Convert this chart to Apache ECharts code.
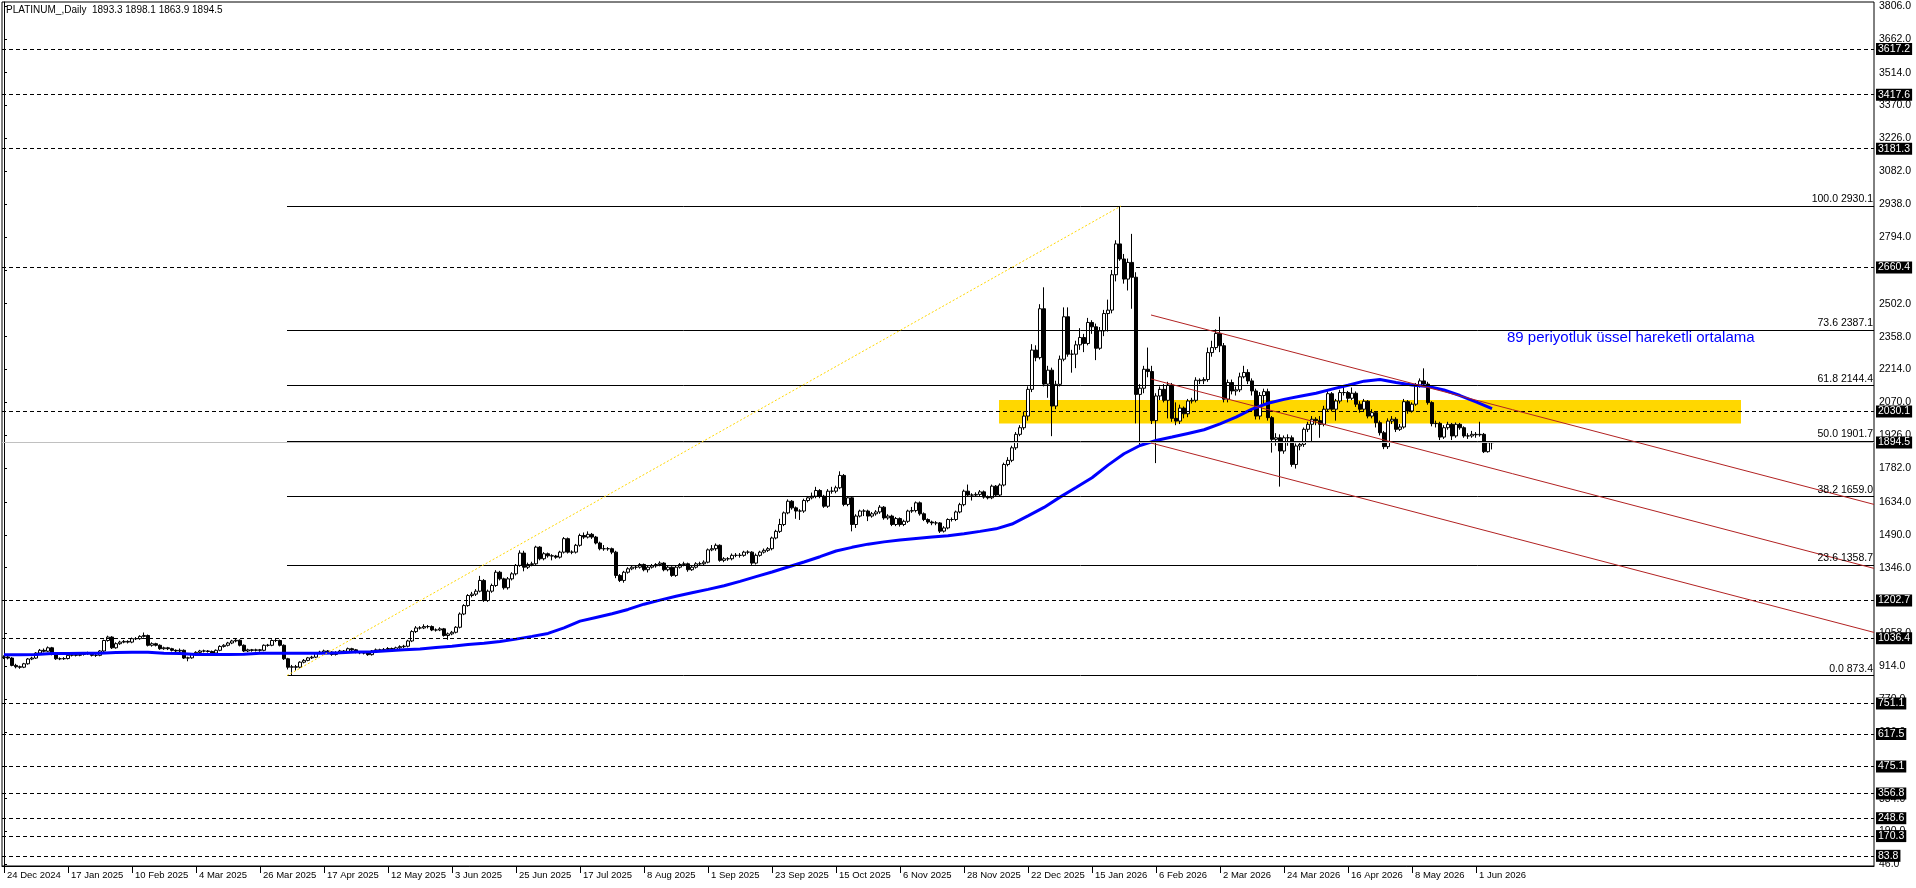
<!DOCTYPE html>
<html>
<head>
<meta charset="utf-8">
<title>PLATINUM_,Daily</title>
<script src="https://cdn.jsdelivr.net/npm/echarts@6/dist/echarts.min.js"></script>
<style>
  html, body { margin: 0; padding: 0; background: #fff; }
  #chart { width: 1916px; height: 888px; }
</style>
</head>
<body>
<div id="chart"></div>
<script>
// date labels, one every 16 daily bars
const dateLabels = ["24 Dec 2024", "17 Jan 2025", "10 Feb 2025", "4 Mar 2025", "26 Mar 2025", "17 Apr 2025",
  "12 May 2025", "3 Jun 2025", "25 Jun 2025", "17 Jul 2025", "8 Aug 2025", "1 Sep 2025", "23 Sep 2025",
  "15 Oct 2025", "6 Nov 2025", "28 Nov 2025", "22 Dec 2025", "15 Jan 2026", "6 Feb 2026", "2 Mar 2026",
  "24 Mar 2026", "16 Apr 2026", "8 May 2026", "1 Jun 2026"];
const labelStep = 16;
const totalSlots = 468; // bars + empty shift area on the right

// price axis labels as printed by the terminal
const priceTicks = [3806, 3662, 3514, 3370, 3226, 3082, 2938, 2794, 2650, 2502, 2358, 2214, 2070, 1926,
  1782, 1634, 1490, 1346, 1202, 1058, 914, 770, 626, 478, 334, 190, 46];

const firstOpen = 952;
const closes = [
  955, 950, 918, 912, 910, 925, 946, 950, 972, 984, 980, 995, 966, 947, 947, 948, 962, 965, 962, 966,
  969, 972, 962, 962, 981, 1027, 1042, 995, 1013, 1020, 1023, 1020, 1035, 1035, 1045, 1049, 1006, 1013, 1006, 991,
  995, 991, 984, 981, 984, 950, 951, 966, 975, 981, 981, 979, 972, 984, 1001, 1006, 1016, 1025, 1028, 1006,
  981, 986, 984, 986, 984, 1006, 1006, 1027, 1027, 1006, 947, 910, 912, 910, 932, 940, 951, 954, 972, 976,
  981, 976, 966, 975, 981, 979, 991, 986, 976, 973, 972, 965, 981, 986, 984, 988, 992, 986, 995, 1000,
  1002, 1025, 1066, 1082, 1082, 1088, 1088, 1073, 1073, 1078, 1049, 1056, 1063, 1085, 1143, 1180, 1224, 1230, 1243, 1290,
  1202, 1243, 1268, 1326, 1297, 1258, 1297, 1319, 1356, 1410, 1348, 1360, 1363, 1436, 1385, 1407, 1398, 1397, 1392, 1414,
  1473, 1414, 1414, 1444, 1487, 1480, 1492, 1480, 1454, 1429, 1429, 1429, 1414, 1312, 1290, 1326, 1341, 1348, 1348, 1360,
  1337, 1348, 1354, 1360, 1366, 1337, 1348, 1312, 1348, 1360, 1363, 1337, 1348, 1363, 1363, 1370, 1424, 1429, 1444, 1378,
  1385, 1385, 1400, 1400, 1400, 1414, 1414, 1366, 1400, 1414, 1422, 1429, 1476, 1505, 1535, 1586, 1637, 1608, 1594, 1594,
  1640, 1652, 1659, 1684, 1659, 1615, 1681, 1681, 1696, 1750, 1623, 1652, 1535, 1572, 1594, 1594, 1572, 1582, 1590, 1611,
  1564, 1572, 1535, 1561, 1535, 1549, 1594, 1596, 1630, 1582, 1557, 1546, 1542, 1542, 1506, 1520, 1557, 1557, 1590, 1622,
  1681, 1664, 1664, 1667, 1678, 1655, 1652, 1703, 1664, 1708, 1798, 1816, 1871, 1930, 1959, 2010, 2127, 2299, 2266, 2480,
  2150, 2211, 2054, 2149, 2259, 2445, 2281, 2281, 2322, 2354, 2328, 2420, 2401, 2307, 2383, 2459, 2474, 2629, 2764, 2698,
  2610, 2683, 2618, 2105, 2132, 2215, 2205, 1990, 2098, 2127, 2079, 2146, 2000, 1988, 2045, 2020, 2076, 2079, 2167, 2165,
  2170, 2288, 2310, 2372, 2318, 2084, 2157, 2120, 2125, 2182, 2201, 2164, 2120, 2010, 2100, 2117, 2003, 1908, 1915, 1857,
  1915, 1915, 1798, 1879, 1886, 1952, 1974, 1996, 1990, 1974, 2040, 2108, 2040, 2076, 2113, 2113, 2088, 2110, 2062, 2040,
  2075, 2010, 2025, 1981, 1937, 1876, 1988, 1996, 1952, 1962, 2073, 2032, 2062, 2142, 2164, 2150, 2069, 1977, 1978, 1918,
  1959, 1974, 1923, 1974, 1959, 1923, 1923, 1930, 1928, 1930, 1854, 1893.3, 1894.5
];
const highs = [
  962, 960, 954, 925, 917, 929, 950, 956, 976, 990, 992, 1001, 999, 970, 953, 954, 967, 970, 969, 971,
  975, 978, 976, 968, 985, 1031, 1048, 1046, 1019, 1026, 1029, 1028, 1040, 1042, 1050, 1062, 1053, 1019, 1017, 1010,
  1000, 999, 995, 988, 992, 988, 956, 970, 980, 986, 987, 985, 983, 988, 1006, 1011, 1021, 1030, 1034, 1032,
  1010, 991, 990, 991, 990, 1010, 1012, 1032, 1036, 1031, 1010, 951, 920, 920, 936, 946, 955, 960, 976, 982,
  987, 985, 980, 980, 986, 985, 996, 995, 990, 981, 978, 976, 985, 992, 991, 994, 998, 996, 1000, 1006,
  1008, 1030, 1072, 1090, 1090, 1098, 1095, 1093, 1080, 1085, 1082, 1062, 1069, 1090, 1150, 1186, 1230, 1240, 1252, 1310,
  1296, 1250, 1276, 1335, 1332, 1302, 1305, 1326, 1362, 1422, 1420, 1368, 1372, 1442, 1440, 1414, 1412, 1405, 1402, 1420,
  1480, 1478, 1422, 1450, 1495, 1500, 1505, 1498, 1485, 1460, 1445, 1436, 1434, 1420, 1318, 1332, 1348, 1355, 1356, 1366,
  1364, 1355, 1362, 1366, 1374, 1370, 1355, 1352, 1355, 1366, 1372, 1368, 1356, 1370, 1372, 1378, 1430, 1445, 1452, 1448,
  1392, 1392, 1408, 1410, 1410, 1420, 1422, 1418, 1408, 1420, 1430, 1436, 1482, 1512, 1560, 1592, 1645, 1642, 1614, 1602,
  1648, 1660, 1675, 1700, 1690, 1665, 1690, 1700, 1705, 1768, 1756, 1660, 1658, 1580, 1600, 1602, 1600, 1590, 1598, 1620,
  1616, 1580, 1578, 1568, 1566, 1556, 1600, 1612, 1636, 1636, 1588, 1562, 1552, 1550, 1546, 1528, 1562, 1566, 1596, 1630,
  1688, 1710, 1672, 1676, 1686, 1684, 1662, 1710, 1708, 1715, 1806, 1830, 1880, 1940, 1970, 2030, 2140, 2325, 2320, 2500,
  2574, 2230, 2222, 2165, 2275, 2486, 2486, 2300, 2340, 2395, 2370, 2440, 2430, 2415, 2400, 2475, 2520, 2650, 2780, 2930.1,
  2720, 2700, 2808, 2640, 2150, 2230, 2310, 2230, 2110, 2140, 2150, 2160, 2155, 2070, 2060, 2052, 2085, 2090, 2180, 2175,
  2180, 2310, 2340, 2390, 2445, 2330, 2170, 2170, 2140, 2200, 2230, 2215, 2175, 2130, 2115, 2130, 2130, 2010, 1935, 1930,
  1925, 1930, 1925, 1890, 1900, 1960, 1985, 2010, 2005, 2010, 2055, 2120, 2115, 2085, 2125, 2140, 2120, 2135, 2118, 2075,
  2085, 2080, 2040, 2032, 1990, 1945, 2000, 2010, 2005, 1975, 2085, 2080, 2070, 2155, 2175, 2219, 2160, 2075, 1990, 1985,
  1970, 1985, 1980, 1982, 1980, 1965, 1935, 1945, 1940, 1985, 1936, 1900, 1898.1
];
const lows = [
  946, 944, 914, 905, 903, 906, 921, 941, 946, 968, 975, 976, 962, 942, 941, 942, 944, 957, 957, 958,
  961, 964, 957, 955, 958, 977, 1022, 990, 991, 1008, 1015, 1014, 1015, 1029, 1030, 1040, 1001, 1000, 1001, 986,
  986, 985, 979, 975, 976, 946, 936, 947, 961, 970, 975, 974, 967, 968, 980, 996, 1001, 1011, 1019, 1001,
  976, 976, 978, 979, 978, 980, 1000, 1002, 1020, 1001, 942, 900, 873.4, 895, 905, 927, 936, 946, 950, 967,
  971, 970, 960, 961, 970, 973, 974, 980, 971, 967, 966, 960, 961, 976, 978, 979, 983, 980, 981, 990,
  994, 997, 1020, 1060, 1075, 1077, 1080, 1068, 1066, 1068, 1044, 1030, 1050, 1058, 1080, 1138, 1175, 1216, 1222, 1238,
  1196, 1196, 1236, 1262, 1290, 1250, 1250, 1290, 1312, 1350, 1330, 1340, 1352, 1358, 1378, 1378, 1390, 1378, 1385, 1386,
  1408, 1408, 1405, 1408, 1438, 1472, 1474, 1472, 1448, 1422, 1420, 1420, 1405, 1300, 1283, 1280, 1320, 1335, 1338, 1342,
  1330, 1325, 1342, 1346, 1352, 1330, 1330, 1306, 1306, 1342, 1352, 1328, 1332, 1342, 1354, 1355, 1365, 1418, 1420, 1372,
  1370, 1376, 1378, 1392, 1390, 1394, 1405, 1358, 1360, 1394, 1408, 1415, 1422, 1470, 1498, 1528, 1580, 1600, 1560, 1555,
  1586, 1632, 1645, 1650, 1650, 1608, 1608, 1670, 1672, 1690, 1615, 1615, 1505, 1520, 1566, 1572, 1550, 1565, 1574, 1582,
  1556, 1556, 1528, 1528, 1526, 1528, 1542, 1586, 1588, 1574, 1550, 1538, 1532, 1532, 1498, 1500, 1514, 1548, 1550, 1584,
  1615, 1656, 1640, 1656, 1660, 1648, 1645, 1646, 1656, 1658, 1702, 1790, 1808, 1862, 1922, 1950, 1990, 2115, 2250, 2258,
  2140, 2090, 1922, 2040, 2140, 2250, 2270, 2200, 2220, 2300, 2290, 2320, 2370, 2255, 2300, 2360, 2380, 2460, 2600, 2690,
  2590, 2560, 2480, 1978, 1876, 2110, 2180, 1975, 1804, 2080, 2070, 2000, 1985, 1970, 1975, 2000, 2005, 2065, 2070, 2150,
  2150, 2160, 2270, 2300, 2290, 2070, 2070, 2105, 2100, 2115, 2175, 2150, 2100, 1995, 1995, 2060, 1990, 1850, 1880, 1701,
  1845, 1880, 1788, 1780, 1860, 1875, 1940, 1900, 1970, 1915, 1965, 2030, 2030, 1990, 2065, 2100, 2070, 2080, 2050, 2025,
  2030, 2000, 2000, 1960, 1925, 1865, 1866, 1975, 1940, 1945, 1955, 2020, 2025, 2055, 2135, 2140, 2060, 1965, 1960, 1905,
  1910, 1950, 1905, 1915, 1950, 1915, 1910, 1915, 1915, 1920, 1848, 1850, 1863.9
];

// 89 period EMA read every 4 bars
const emaStep = 4;
const ema89 = [
  965, 965, 966, 970, 970, 971, 971, 974, 975, 975, 971, 970, 966, 966, 966, 967, 971, 971, 971, 971,
  971, 973, 977, 978, 982, 986, 990, 996, 1002, 1009, 1015, 1023, 1033, 1045, 1058, 1082, 1112, 1128, 1144, 1163,
  1186, 1204, 1221, 1236, 1251, 1267, 1286, 1307, 1327, 1349, 1371, 1394, 1419, 1435, 1449, 1459, 1467, 1474, 1480, 1486,
  1495, 1505, 1516, 1537, 1573, 1610, 1655, 1697, 1740, 1795, 1845, 1881, 1903, 1918, 1934, 1950, 1976, 2005, 2040, 2066,
  2083, 2097, 2110, 2128, 2145, 2163, 2170, 2157, 2146, 2140, 2124, 2100, 2072, 2043
];

// fibonacci retracement from the April 2025 low to the January 2026 high
const fibStartBar = 70.75;
const fibLevels = ["0.0", "23.6", "38.2", "50.0", "61.8", "73.6", "100.0"];
const fibPrices = [873.4, 1358.7, 1659.0, 1901.7, 2144.4, 2387.1, 2930.1];
const fibAnchor = [[70.75, 873.4], [279.25, 2930.1]];

// horizontal support / resistance levels
const levelPrices = [3617.2, 3417.6, 3181.3, 2660.4, 2030.1, 1202.7, 1036.4, 751.1, 617.5, 475.1, 356.8, 248.6, 170.3, 83.8];
const bidPrice = 1894.5;

// descending channel: [startBar, startPrice, endBar, endPrice]
const channelLines = [
  [286.75, 2452.7, 467.5, 1623.1],
  [286.75, 2172.4, 467.5, 1342.8],
  [286.75, 1892.1, 467.5, 1062.5]
];

// yellow zone
const zoneBars = [248.75, 434.25];
const zonePrices = [1977.5, 2080.4];

const noteText = "89 periyotluk üssel hareketli ortalama";
const notePos = [375.75, 2352];
const titleText = "PLATINUM_,Daily  1893.3 1898.1 1863.9 1894.5";

const FONT = "Liberation Sans, Arial, sans-serif";

const categories = [];
for (let i = 0; i < totalSlots; i++) {
  categories.push(i % labelStep === 0 && i / labelStep < dateLabels.length ? dateLabels[i / labelStep] : "");
}
const candles = closes.map((c, i) => {
  const o = i === 0 ? firstOpen : closes[i - 1];
  return [o, c, lows[i], highs[i]];
});
const emaData = ema89.map((v, k) => [k * emaStep, v]);

const fibMarks = fibPrices.map((p, k) => [
  {
    coord: [fibStartBar, p],
    lineStyle: { color: "#000", width: 1, type: "solid" },
    label: {
      show: true, position: "insideEndTop", distance: 1,
      formatter: fibLevels[k] + " " + p.toFixed(1),
      color: "#000", fontSize: 10.5, fontFamily: FONT,
    },
  },
  { coord: [totalSlots - 0.5, p] },
]);
const levelMarks = levelPrices.map((p) => ({
  yAxis: p,
  lineStyle: { color: "#000", width: 1, type: [4, 3] },
  label: {
    show: true, position: "end", distance: 2, formatter: p.toFixed(1),
    color: "#fff", backgroundColor: "#000", padding: [1, 2, 0, 2],
    fontSize: 10.5, fontFamily: FONT,
  },
}));
const bidMark = {
  yAxis: bidPrice,
  lineStyle: { color: "#c0c0c0", width: 1, type: "solid" },
  label: {
    show: true, position: "end", distance: 2, formatter: bidPrice.toFixed(1),
    color: "#fff", backgroundColor: "#000", padding: [1, 2, 0, 2],
    fontSize: 10.5, fontFamily: FONT,
  },
};
const channelMarks = channelLines.map((l) => [
  { coord: [l[0], l[1]], lineStyle: { color: "#b22222", width: 1, type: "solid" }, label: { show: false } },
  { coord: [l[2], l[3]] },
]);
const trendMark = [
  { coord: fibAnchor[0], lineStyle: { color: "#ffd700", width: 1, type: [2, 2] }, label: { show: false } },
  { coord: fibAnchor[1] },
];

const chart = echarts.init(document.getElementById("chart"), null, { renderer: "canvas" });
chart.setOption({
  animation: false,
  backgroundColor: "#fff",
  textStyle: { fontFamily: FONT },
  grid: {
    left: 2, right: 42, top: 2, bottom: 22,
    show: true, borderColor: "#000", borderWidth: 1, backgroundColor: "#fff",
    outerBoundsMode: "none",
  },
  graphic: [
    {
      type: "text", left: 6, top: 5, silent: true,
      style: { text: titleText, fill: "#000", font: "10px " + FONT },
    },
  ],
  xAxis: [
    {
      type: "category",
      data: categories,
      boundaryGap: true,
      axisLine: { show: true, lineStyle: { color: "#000", width: 1 } },
      axisTick: {
        show: true, alignWithLabel: true, length: 7, lineStyle: { color: "#000" },
        interval: (idx, val) => val !== "",
      },
      axisLabel: {
        show: true, interval: (idx, val) => val !== "", hideOverlap: false,
        align: "left", margin: 4, padding: [0, 0, 0, 3],
        color: "#000", fontSize: 9.5, fontFamily: FONT,
      },
      splitLine: { show: false },
    },
    { type: "value", min: -0.5, max: totalSlots - 0.5, show: false },
  ],
  yAxis: {
    type: "value",
    position: "right",
    min: 39.3,
    max: 3823.6,
    scale: true,
    axisLine: { show: true, lineStyle: { color: "#000", width: 1 } },
    axisTick: { show: true, length: 3, lineStyle: { color: "#000" }, customValues: priceTicks },
    axisLabel: {
      show: true, customValues: priceTicks, margin: 5,
      formatter: (v) => v.toFixed(1), color: "#000", fontSize: 10.5, fontFamily: FONT,
    },
    splitLine: { show: false },
  },
  series: [
    {
      name: "zone",
      type: "line",
      xAxisIndex: 1,
      data: [],
      z: 1,
      silent: true,
      markArea: {
        silent: true,
        itemStyle: { color: "#ffd700", opacity: 1 },
        data: [[{ coord: [zoneBars[0], zonePrices[1]] }, { coord: [zoneBars[1], zonePrices[0]] }]],
      },
    },
    {
      name: "levels",
      type: "line",
      xAxisIndex: 1,
      data: [],
      z: 2,
      silent: true,
      markLine: {
        silent: true,
        symbol: ["none", "none"],
        animation: false,
        data: [...levelMarks, bidMark, ...fibMarks, ...channelMarks, trendMark],
      },
    },
    {
      name: "PLATINUM_",
      type: "candlestick",
      data: candles,
      barWidth: 3,
      z: 3,
      silent: true,
      itemStyle: {
        color: "#ffffff",
        color0: "#000000",
        borderColor: "#000000",
        borderColor0: "#000000",
        borderWidth: 1,
      },
    },
    {
      name: "EMA 89",
      type: "line",
      xAxisIndex: 1,
      data: emaData,
      z: 4,
      silent: true,
      symbol: "none",
      lineStyle: { color: "#0000ff", width: 3 },
      markPoint: {
        silent: true,
        symbol: "circle",
        symbolSize: 0,
        data: [{
          coord: notePos,
          label: {
            show: true, position: "right", distance: 0, formatter: noteText,
            color: "#0000ff", fontSize: 15, fontFamily: FONT,
          },
        }],
      },
    },
  ],
});
</script>
</body>
</html>
